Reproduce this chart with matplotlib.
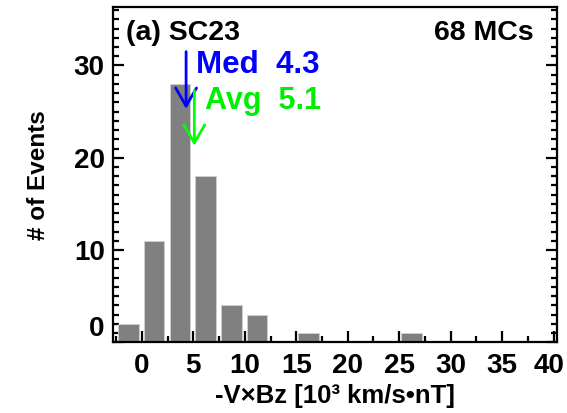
import matplotlib
matplotlib.use("Agg")
import matplotlib.pyplot as plt
import matplotlib.transforms as mtransforms
from matplotlib.ticker import MultipleLocator

# ---- data ----
bin_starts = [-2.5, 0.0, 2.5, 5.0, 7.5, 10.0, 15.0, 25.0]
counts = [2, 11, 28, 18, 4, 3, 1, 1]
median_val = 4.3
mean_val = 5.1
n_events = 68
panel_label = "(a) SC23"
xticks = [0, 5, 10, 15, 20, 25, 30, 35, 40]
yticks = [0, 10, 20, 30]

plt.rcParams['font.family'] = ['Liberation Sans', 'DejaVu Sans']
plt.rcParams['font.weight'] = 'bold'

fig = plt.figure(figsize=(5.67, 4.13), dpi=100)
ax = fig.add_axes([0.1993, 0.1712, 0.7825, 0.8111])

bar_w = 2.0
ax.bar([b + 0.2 for b in bin_starts], counts, width=bar_w, align='edge',
       color='#808080', edgecolor='#d0d0d0', linewidth=0.6, zorder=2)

ax.set_xlim(-2.8, 40.3)
ax.set_ylim(0, 36.3)
ax.set_xticks(xticks)
ax.set_yticks(yticks)
ax.xaxis.set_minor_locator(MultipleLocator(2.5))
ax.yaxis.set_minor_locator(MultipleLocator(1))

for s in ax.spines.values():
    s.set_linewidth(1.6)

ax.tick_params(axis='both', which='major', direction='in', length=8, width=1.6,
               labelsize=20, pad=6)
ax.tick_params(axis='both', which='minor', direction='in', length=4, width=1.6)
ax.tick_params(axis='y', which='both', right=True)
ax.tick_params(axis='x', which='both', top=False)
ax.tick_params(axis='x', which='major', pad=8)
for lab in ax.get_yticklabels():
    lab.set_fontweight('bold')
for lab in ax.get_xticklabels():
    lab.set_fontweight('bold')
ax.get_yticklabels()[0].set_verticalalignment('bottom')
last = ax.get_xticklabels()[-1]
last.set_transform(last.get_transform() +
                   mtransforms.ScaledTranslation(-5 / 100, 0, fig.dpi_scale_trans))

ax.set_xlabel("-V×Bz [10³ km/s•nT]", fontsize=18.5, fontweight='bold', labelpad=3)
ax.set_ylabel("# of Events", fontsize=17.5, fontweight='bold', labelpad=17)

# arrows
astyle = '->,head_length=1.3,head_width=0.75'
ax.annotate("", xy=(median_val, 25.0), xytext=(median_val, 31.8),
            arrowprops=dict(arrowstyle=astyle, color='#0000ff', lw=2), zorder=4)
ax.annotate("", xy=(mean_val, 21.0), xytext=(mean_val, 27.6),
            arrowprops=dict(arrowstyle=astyle, color='#00ff00', lw=2), zorder=4)
ax.text(median_val + 1.0, 30.0, f"Med  {median_val:.1f}", color='#0000ff',
        fontsize=22.5, fontweight='bold', va='center', ha='left')
ax.text(mean_val + 1.0, 26.2, f"Avg  {mean_val:.1f}", color='#00ee00',
        fontsize=22, fontweight='bold', va='center', ha='left')

ax.text(0.029, 0.923, panel_label, transform=ax.transAxes, fontsize=20.5,
        fontweight='bold', va='center', ha='left')
ax.text(0.949, 0.923, f"{n_events} MCs", transform=ax.transAxes, fontsize=20.5,
        fontweight='bold', va='center', ha='right')

fig.savefig("out.png", dpi=100)
